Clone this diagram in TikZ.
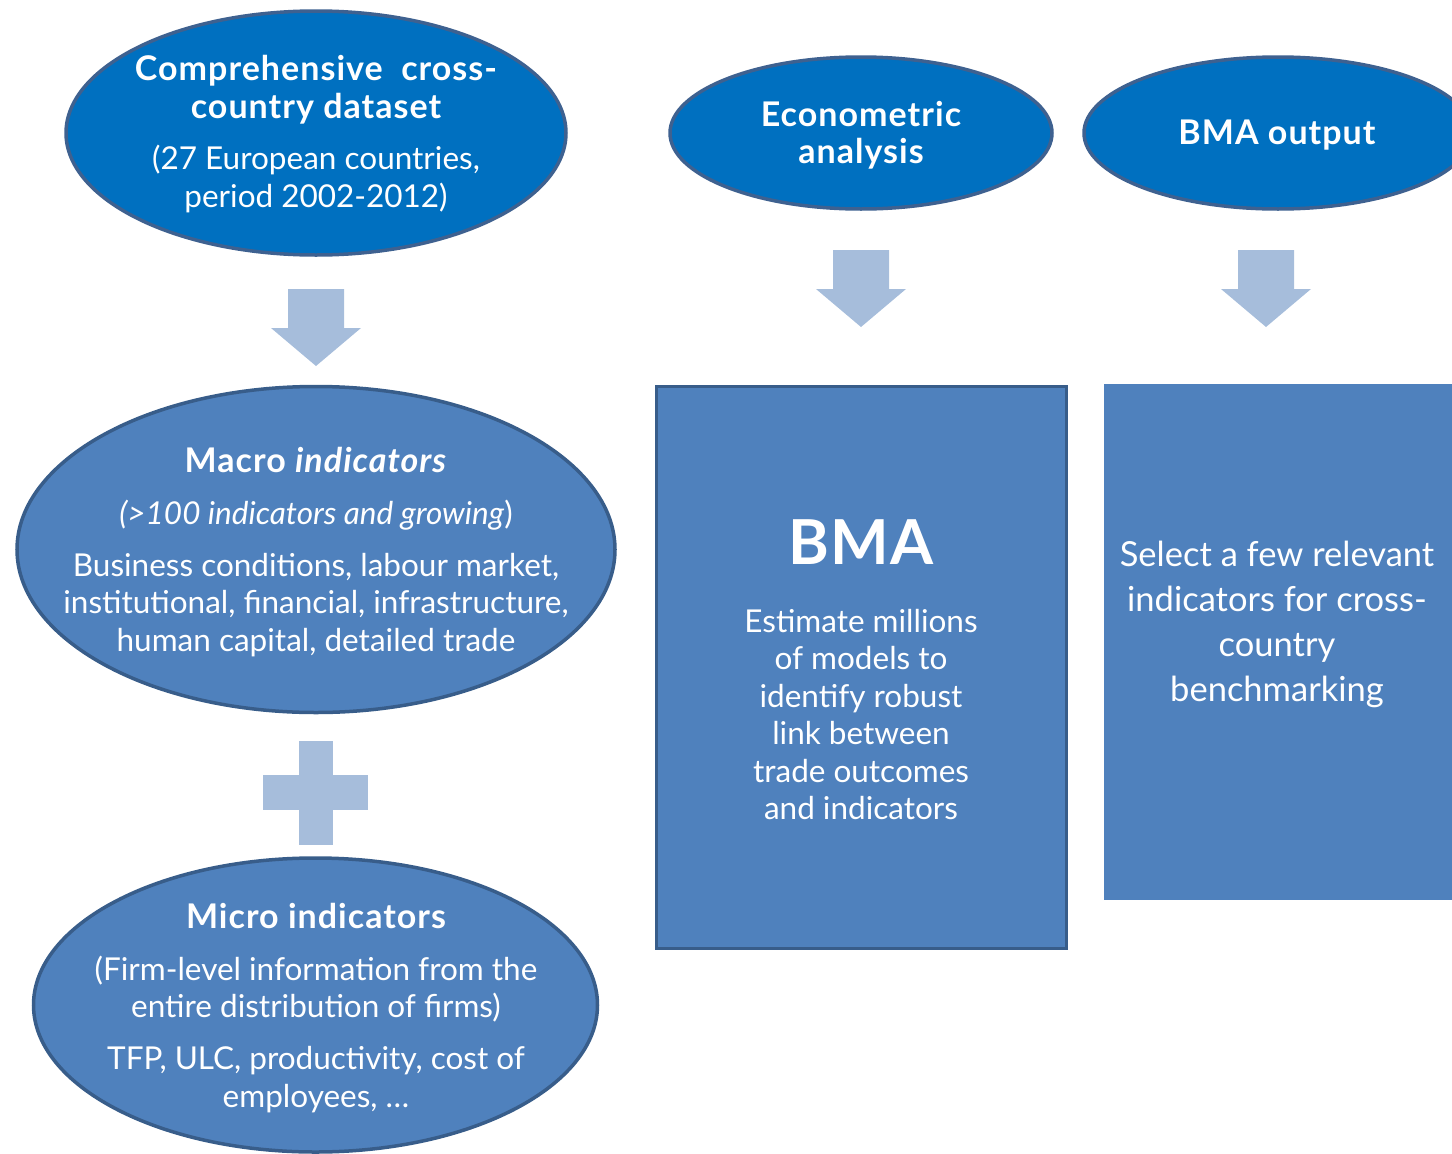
\documentclass[tikz,border=0pt]{standalone}
\usepackage{fontspec}
\setmainfont{Lato}
\usetikzlibrary{shapes.geometric}
\definecolor{topblue}{HTML}{0070C0}
\definecolor{topedge}{HTML}{3E6190}
\definecolor{midblue}{HTML}{4F81BD}
\definecolor{midedge}{HTML}{385D8A}
\definecolor{arrowblue}{HTML}{A6BDDB}
\newcommand\bt[1]{{\fontsize{34}{37.5}\selectfont\bfseries\addfontfeature{LetterSpace=3}#1}}
\tikzset{
  topell/.style={ellipse, fill=topblue, draw=topedge, line width=3.5pt, inner sep=0pt},
  midell/.style={ellipse, fill=midblue, draw=midedge, line width=3.5pt, inner sep=0pt},
  txt/.style={text=white, align=center, inner sep=0pt, font=\fontsize{31.5}{37.5}\selectfont},
  bigtxt/.style={text=white, align=center, inner sep=0pt, font=\fontsize{34.5}{45}\selectfont},
  downarrow/.style={fill=arrowblue, draw=none}
}
\begin{document}
\begin{tikzpicture}[x=1pt,y=-1pt]
\useasboundingbox (0,0) rectangle (1452,1154);
\clip (0,0) rectangle (1452,1154);
% top ellipses
\node[topell, minimum width=500pt, minimum height=244pt] (data) at (316,133) {};
\node[topell, minimum width=382pt, minimum height=152pt] (econ) at (861,133) {};
\node[topell, minimum width=388pt, minimum height=152pt] (bmaout) at (1278,133) {};
% down arrows
\foreach \n/\cx/\ty/\by in {a1/316/289/366, a2/861/250/327, a3/1266/250/327}{
  \fill[downarrow] (\cx-28,\ty) -- (\cx+28,\ty) -- (\cx+28,\by-38) -- (\cx+45,\by-38)
     -- (\cx,\by) -- (\cx-45,\by-38) -- (\cx-28,\by-38) -- cycle;
  \coordinate (\n) at (\cx,\by);
}
% macro ellipse
\node[midell, minimum width=598pt, minimum height=326pt] (macro) at (316,549.5) {};
% plus
\fill[arrowblue] (299,741) rectangle (333,845);
\fill[arrowblue] (263,775) rectangle (368,810);
\coordinate (plus) at (316,793);
% micro ellipse
\node[midell, minimum width=564pt, minimum height=294pt] (micro) at (315.5,1005) {};
% rectangles
\node[rectangle, fill=midblue, draw=midedge, line width=3pt, minimum width=410pt, minimum height=562pt, inner sep=0pt] (bma) at (861,667) {};
\node[rectangle, fill=midblue, draw=none, minimum width=350pt, minimum height=516pt, inner sep=0pt] (sel) at (1279,642) {};
% texts
\node[txt] (tdata) at (316,134) {\bt{Comprehensive\ \ cross-}\\\bt{country dataset}\\[14pt](27 European countries,\\period 2002-2012)};
\node[txt] (tecon) at (861,135) {\bt{Econometric}\\\bt{analysis}};
\node[txt] (tbmaout) at (1277,135) {\bt{BMA output}};
\node[txt] (tmacro) at (316,552) {\bt{Macro \textit{indicators}}\\[14.5pt]\textit{(>100 indicators and growing})\\[14.5pt]Business conditions, labour market,\\institutional, financial, infrastructure,\\human capital, detailed trade};
\node[txt] (tmicro) at (316,1008) {\bt{Micro indicators}\\[14.5pt](Firm-level information from the\\entire distribution of firms)\\[14.5pt]TFP, ULC, productivity, cost of\\employees, \dots};
\node[txt] (tbma) at (861,670) {{\fontsize{62}{62}\selectfont\bfseries\addfontfeature{LetterSpace=2}BMA}\\[30pt]Estimate millions\\of models to\\identify robust\\link between\\trade outcomes\\and indicators};
\node[bigtxt] (tsel) at (1277,624) {Select a few relevant\\indicators for cross-\\country\\benchmarking};
\end{tikzpicture}
\end{document}
